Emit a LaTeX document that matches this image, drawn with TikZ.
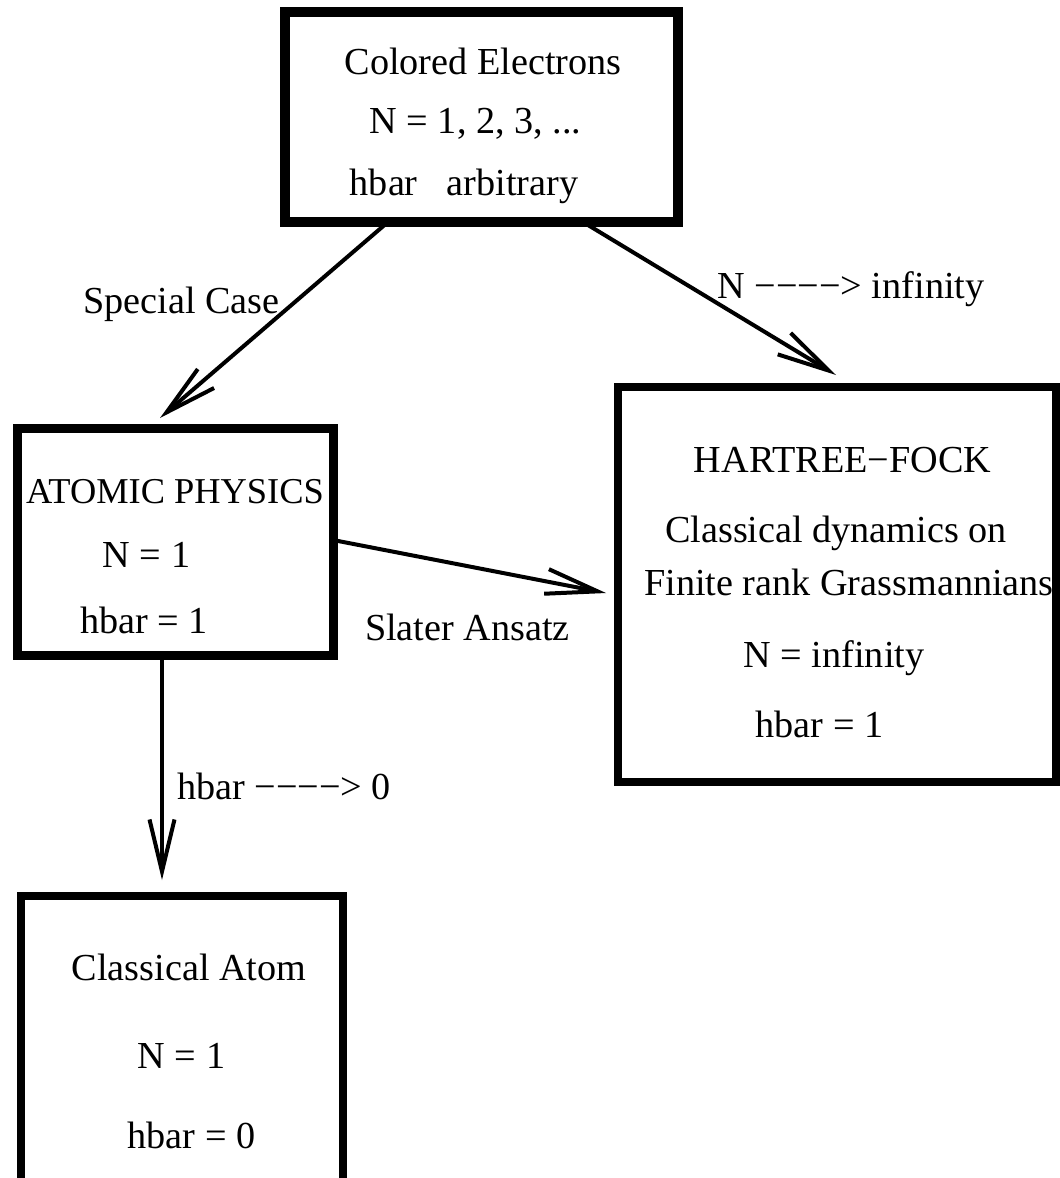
\documentclass[tikz,border=0pt]{standalone}
\usepackage{fontspec}
\setmainfont{Liberation Serif}
\usetikzlibrary{arrows.meta,calc}
\begin{document}
\begin{tikzpicture}[x=1pt,y=-1pt,
  box/.style={draw,rectangle,inner sep=0pt,outer sep=0pt},
  txt/.style={anchor=base,inner sep=0pt,font=\fontsize{38.2}{45}\selectfont},
  conn/.style={line width=4pt,-{Straight Barb[length=52pt,width=25pt]}}]
\useasboundingbox (0,0) rectangle (1060,1178);
\clip (0,0) rectangle (1060,1178);
% boxes
\node[box,line width=10pt,minimum width=393pt,minimum height=210pt] (b1) at (481.5,117) {};
\node[box,line width=9pt,minimum width=316pt,minimum height=227pt] (b2) at (175,541.5) {};
\node[box,line width=8pt,minimum width=438pt,minimum height=395pt] (b3) at (837,584.5) {};
\node[box,line width=7.5pt,minimum width=322pt,minimum height=320pt] (b4) at (182,1056) {};
% box texts
\node[txt] (b1a) at (483,74) {Colored Electrons};
\node[txt] (b1b) at (475.5,133) {N = 1, 2, 3, ...};
\node[txt] (b1c) at (464,195) {hbar\hspace{29pt}arbitrary};
\node[txt,font=\fontsize{36.4}{44}\selectfont] (b2a) at (175,503) {ATOMIC PHYSICS};
\node[txt] (b2b) at (146.5,567) {N = 1};
\node[txt] (b2c) at (144,633) {hbar = 1};
\node[txt] (b3a) at (842.5,472) {HARTREE−FOCK};
\node[txt] (b3b) at (836,542) {Classical dynamics on};
\node[txt] (b3c) at (849,595) {Finite rank Grassmannians};
\node[txt] (b3d) at (834,667) {N = infinity};
\node[txt] (b3e) at (819.5,737) {hbar = 1};
\node[txt] (b4a) at (189,980) {Classical Atom};
\node[txt] (b4b) at (181.5,1068) {N = 1};
\node[txt] (b4c) at (191.5,1148) {hbar = 0};
% connector labels
\node[txt] (l1) at (181.5,313) {Special Case};
\node[txt] (l2) at (851,298) {N −−−−> infinity};
\node[txt] (l3) at (467.5,640) {Slater Ansatz};
\node[txt] (l4) at (284,799) {hbar −−−−> 0};
% arrow tips
\coordinate (t1) at (160,418);
\coordinate (t2) at (836,375);
\coordinate (t3) at (606,593);
\coordinate (t4) at (162,880);
% connectors
\draw[conn] ($(b1.south west)+(103,0)$) -- (t1);
\draw[conn] ($(b1.south west)+(298,0)$) -- (t2);
\draw[conn] ($(b2.north east)+(0,112)$) -- (t3);
\draw[conn] ($(b2.south west)+(145,0)$) -- (t4);
\end{tikzpicture}
\end{document}
